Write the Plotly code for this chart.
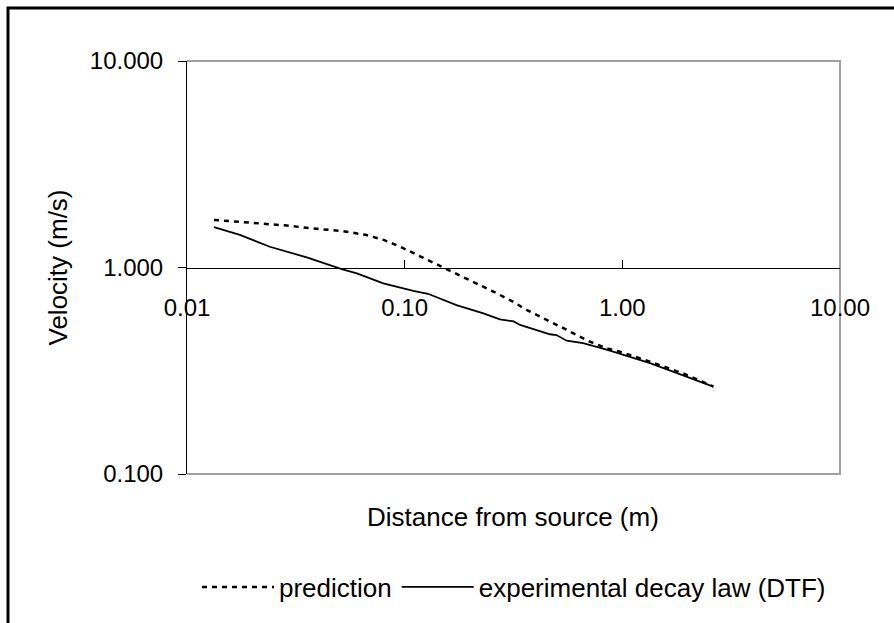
import plotly.graph_objects as go

# Data
pred_x = [0.0133, 0.0165, 0.0209, 0.028, 0.0394, 0.052, 0.066, 0.08, 0.094, 0.125,
          0.163, 0.2, 0.265, 0.317, 0.363, 0.545, 0.7, 0.847, 1.0, 1.34, 1.9, 2.62]
pred_y = [1.70, 1.67, 1.64, 1.60, 1.54, 1.50, 1.44, 1.36, 1.27, 1.10,
          0.96, 0.87, 0.75, 0.68, 0.623, 0.504, 0.44, 0.406, 0.388, 0.35, 0.307, 0.265]

exp_x = [0.0133, 0.0175, 0.024, 0.0355, 0.0518, 0.0603, 0.0798, 0.1096, 0.128, 0.173,
         0.23, 0.274, 0.317, 0.339, 0.465, 0.498, 0.555, 0.66, 0.847, 1.34, 2.62]
exp_y = [1.57, 1.44, 1.26, 1.12, 0.98, 0.937, 0.838, 0.77, 0.746, 0.658,
         0.60, 0.561, 0.548, 0.527, 0.475, 0.471, 0.442, 0.43, 0.40, 0.344, 0.265]

x_tickvals = [0.01, 0.1, 1, 10]
x_ticktext = ["0.01", "0.10", "1.00", "10.00"]
y_tickvals = [0.1, 1, 10]
y_ticktext = ["0.100", "1.000", "10.000"]

FONT = "Liberation Sans, Arial, sans-serif"
TICK_FS = 24
TXT_FS = 26

fig = go.Figure()
fig.add_trace(go.Scatter(x=pred_x, y=pred_y, mode="lines", name="prediction",
                         line=dict(color="black", width=2.5, dash="5px,5px")))
fig.add_trace(go.Scatter(x=exp_x, y=exp_y, mode="lines", name="experimental decay law (DTF)",
                         line=dict(color="black", width=1.8)))

L, R, T, B = 187, 840, 61, 474
W, H = 894, 623

def px_x(p):
    return (p - L) / (R - L)

def px_y(p):
    return (B - p) / (B - T)

fig.update_layout(
    width=W, height=H,
    margin=dict(l=L, r=W - R, t=T, b=H - B),
    paper_bgcolor="white", plot_bgcolor="white",
    font=dict(family=FONT, size=TXT_FS, color="black"),
    showlegend=True,
    legend=dict(orientation="h", x=px_x(514), y=px_y(587), xanchor="center", yanchor="middle",
                font=dict(size=TXT_FS), itemwidth=72, bgcolor="rgba(0,0,0,0)",
                tracegroupgap=0),
    xaxis=dict(type="log", range=[-2, 1], anchor="free", position=0.5,
               showline=True, linecolor="black", linewidth=1,
               ticks="inside", ticklen=8, tickcolor="black", tickwidth=1,
               tickvals=x_tickvals, ticktext=x_ticktext, ticklabelstandoff=19,
               tickfont=dict(size=TICK_FS),
               showgrid=False, zeroline=False),
    yaxis=dict(type="log", range=[-1, 1],
               showline=True, linecolor="black", linewidth=1,
               ticks="outside", ticklen=8, tickcolor="black", tickwidth=1,
               tickvals=y_tickvals, ticktext=y_ticktext, ticklabelstandoff=10,
               tickfont=dict(size=TICK_FS),
               showgrid=False, zeroline=False,
               title=dict(text="Velocity (m/s)", standoff=14, font=dict(size=TXT_FS))),
    shapes=[
        # plot-area frame (gray) top/right/bottom
        dict(type="path", xref="paper", yref="paper",
             path="M 0,1 L 1,1 L 1,0 L 0,0", line=dict(color="#a0a0a0", width=2), layer="below"),
        # outer chart frame
        dict(type="rect", xref="paper", yref="paper",
             x0=px_x(8), y0=px_y(8), x1=px_x(1000), y1=px_y(800),
             line=dict(color="black", width=3)),
    ],
    annotations=[
        dict(text="Distance from source (m)", xref="paper", yref="paper",
             x=px_x(513), y=px_y(517), xanchor="center", yanchor="middle",
             showarrow=False, font=dict(size=TXT_FS)),
    ],
)

fig.write_html("out.html")
